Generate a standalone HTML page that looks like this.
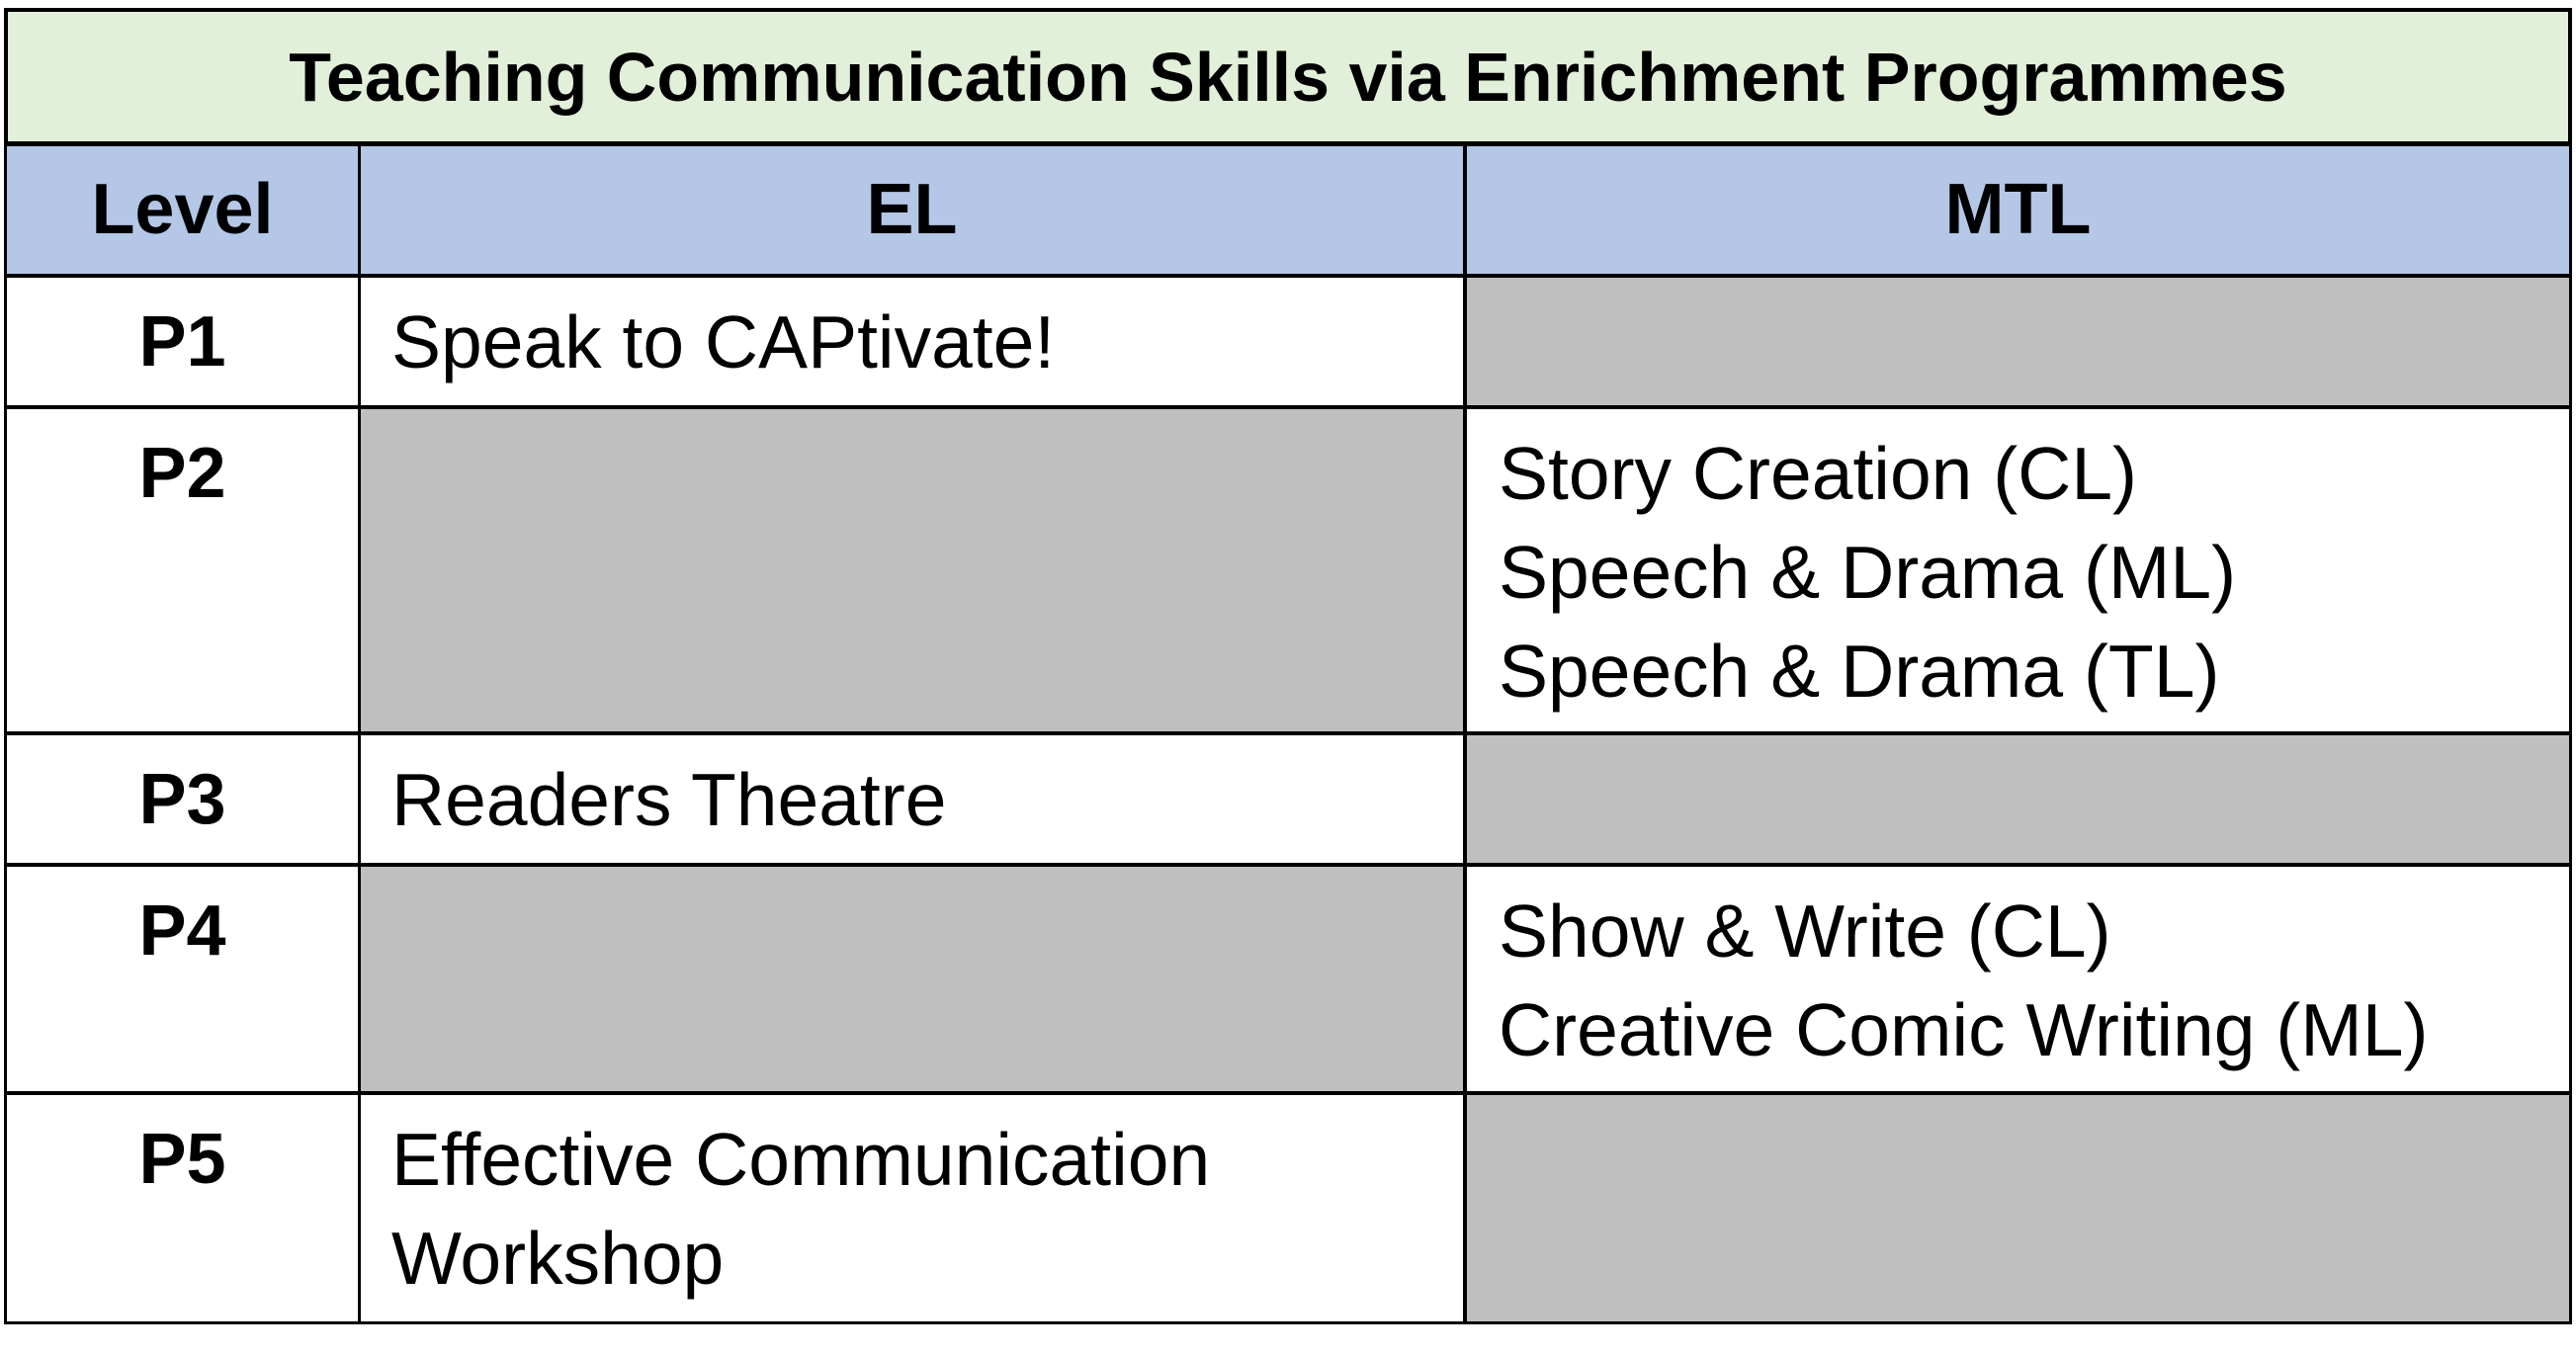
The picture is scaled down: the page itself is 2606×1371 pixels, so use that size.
<!DOCTYPE html>
<html><head><meta charset="utf-8"><style>
body{margin:0;width:2606px;height:1371px;background:#fff;position:relative;overflow:hidden;font-family:"Liberation Sans",sans-serif;}
.c{position:absolute;box-sizing:border-box;border:3.5px solid #000;}
.t{position:absolute;font-size:75px;line-height:100px;color:#000;white-space:nowrap;}
.b{font-weight:bold;}
</style></head><body>
<div class="c" style="left:4px;top:8px;width:2598px;height:139px;background:#e2efd9;border-width:4px"></div>
<div class="t b" style="left:4px;width:2598px;text-align:center;top:28px;font-size:70px">Teaching Communication Skills via Enrichment Programmes</div>

<div class="c" style="left:4px;top:145px;width:361px;height:135px;background:#b4c7e7"></div>
<div class="c" style="left:362px;top:145px;width:1121px;height:135px;background:#b4c7e7"></div>
<div class="c" style="left:1481px;top:145px;width:1121px;height:135px;background:#b4c7e7"></div>
<div class="t b" style="left:4px;width:361px;text-align:center;top:162px;font-size:72px">Level</div>
<div class="t b" style="left:362px;width:1121px;text-align:center;top:162px;font-size:72px">EL</div>
<div class="t b" style="left:1481px;width:1121px;text-align:center;top:162px;font-size:72px">MTL</div>

<div class="c" style="left:4px;top:278px;width:361px;height:135px"></div>
<div class="c" style="left:362px;top:278px;width:1121px;height:135px"></div>
<div class="c" style="left:1481px;top:278px;width:1121px;height:135px;background:#bfbfbf"></div>

<div class="c" style="left:4px;top:411px;width:361px;height:332px"></div>
<div class="c" style="left:362px;top:411px;width:1121px;height:332px;background:#bfbfbf"></div>
<div class="c" style="left:1481px;top:411px;width:1121px;height:332px"></div>

<div class="c" style="left:4px;top:741px;width:361px;height:135px"></div>
<div class="c" style="left:362px;top:741px;width:1121px;height:135px"></div>
<div class="c" style="left:1481px;top:741px;width:1121px;height:135px;background:#bfbfbf"></div>

<div class="c" style="left:4px;top:874px;width:361px;height:233px"></div>
<div class="c" style="left:362px;top:874px;width:1121px;height:233px;background:#bfbfbf"></div>
<div class="c" style="left:1481px;top:874px;width:1121px;height:233px"></div>

<div class="c" style="left:4px;top:1105px;width:361px;height:235px"></div>
<div class="c" style="left:362px;top:1105px;width:1121px;height:235px"></div>
<div class="c" style="left:1481px;top:1105px;width:1121px;height:235px;background:#bfbfbf"></div>

<div class="t b" style="left:4px;width:361px;text-align:center;top:296px;font-size:72px">P1</div>
<div class="t" style="left:396px;top:296px">Speak to CAPtivate!</div>
<div class="t b" style="left:4px;width:361px;text-align:center;top:429px;font-size:72px">P2</div>
<div class="t" style="left:1516px;top:429px">Story Creation (CL)<br>Speech &amp; Drama (ML)<br>Speech &amp; Drama (TL)</div>
<div class="t b" style="left:4px;width:361px;text-align:center;top:759px;font-size:72px">P3</div>
<div class="t" style="left:396px;top:759px">Readers Theatre</div>
<div class="t b" style="left:4px;width:361px;text-align:center;top:892px;font-size:72px">P4</div>
<div class="t" style="left:1516px;top:892px">Show &amp; Write (CL)<br>Creative Comic Writing (ML)</div>
<div class="t b" style="left:4px;width:361px;text-align:center;top:1123px;font-size:72px">P5</div>
<div class="t" style="left:396px;top:1123px">Effective Communication<br>Workshop</div>
</body></html>
